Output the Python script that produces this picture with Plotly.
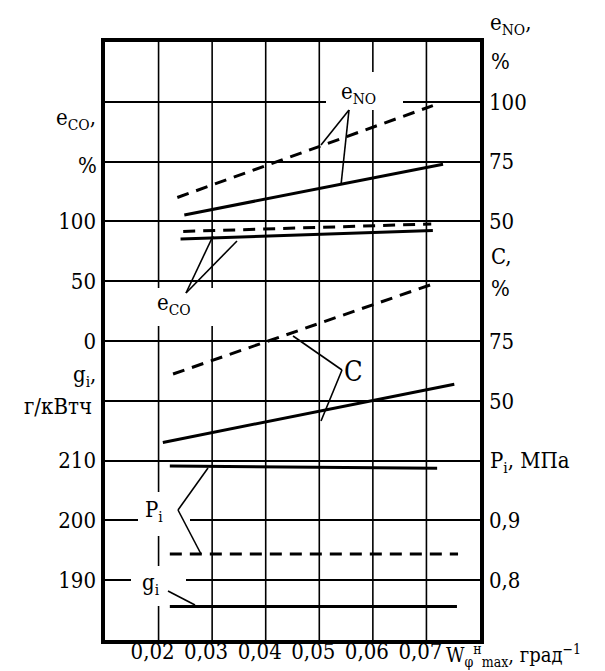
import plotly.graph_objects as go

# ---------------- data ----------------
x_ticks = [0.02, 0.03, 0.04, 0.05, 0.06, 0.07]
x_ticktext = ["0,02", "0,03", "0,04", "0,05", "0,06", "0,07"]

# e_NO, %  (right scale)
eno_dash_x = [0.0235, 0.0712]
eno_dash_y = [60.0, 98.4]
eno_solid_x = [0.0248, 0.0731]
eno_solid_y = [52.7, 73.9]

# e_CO, %  (left scale)
eco_dash_x = [0.0246, 0.0709]
eco_dash_y = [91.6, 97.8]
eco_solid_x = [0.0241, 0.0712]
eco_solid_y = [85.2, 92.4]

# C, %  (right scale)
c_dash_x = [0.0227, 0.0709]
c_dash_y = [61.2, 98.6]
c_solid_x = [0.0208, 0.0752]
c_solid_y = [32.6, 56.9]

# P_i, MPa (right scale)
pi_solid_x = [0.0221, 0.0720]
pi_solid_y = [0.991, 0.987]
pi_dash_x = [0.0221, 0.0759]
pi_dash_y = [0.844, 0.844]

# g_i, g/kWh (left scale)
gi_solid_x = [0.0221, 0.0757]
gi_solid_y = [185.6, 185.6]

eco_ticks = [0, 50, 100]
gi_ticks = [190, 200, 210]
eno_ticks = [50, 75, 100]
c_ticks = [50, 75]
pi_ticks = [0.8, 0.9]
pi_ticktext = ["0,8", "0,9"]

# ---------------- layout helpers ----------------
L, R, T, B = 97, 472, 34, 632
FONT = "'DejaVu Serif Condensed', 'DejaVu Serif', serif"
FS = 22


def px2x(px):
    return 0.01 + (px - L) / (R - L) * 0.07


def py2j(py):
    return (B - py) / (B - T) * 10


def ppx(px):
    return (px - L) / (R - L)


def ppy(py):
    return (B - py) / (B - T)


fig = go.Figure()

DASH = "12px,8px"
LW = 3


def add_line(x, y, axis, dash=None):
    fig.add_trace(go.Scatter(
        x=x, y=y, mode="lines", yaxis=axis, showlegend=False, hoverinfo="skip",
        line=dict(color="black", width=LW, dash=dash if dash else "solid")))


add_line(eno_dash_x, eno_dash_y, "y4", DASH)
add_line(eno_solid_x, eno_solid_y, "y4")
add_line(eco_dash_x, eco_dash_y, "y2", DASH)
add_line(eco_solid_x, eco_solid_y, "y2")
add_line(c_dash_x, c_dash_y, "y5", DASH)
add_line(c_solid_x, c_solid_y, "y5")
add_line(pi_solid_x, pi_solid_y, "y6")
add_line(pi_dash_x, pi_dash_y, "y6", DASH)
add_line(gi_solid_x, gi_solid_y, "y3")

tickfont = dict(family=FONT, size=FS, color="black")

fig.update_layout(
    width=605, height=671,
    margin=dict(l=L, r=605 - R, t=T, b=671 - B, autoexpand=False),
    paper_bgcolor="white", plot_bgcolor="white",
    font=dict(family=FONT, size=FS, color="black"),
    xaxis=dict(range=[0.01, 0.08], tickvals=x_ticks, ticktext=x_ticktext,
               showgrid=False, zeroline=False, showline=True, mirror=True,
               linecolor="black", linewidth=3.5, ticks="", tickfont=tickfont,
               ticklabelstandoff=-11, ticklabelshift=-6, automargin=False),
    yaxis=dict(range=[0, 10], tickvals=list(range(11)), showgrid=True,
               gridcolor="black", gridwidth=1.6, showticklabels=False,
               zeroline=False, showline=True, mirror=True, linecolor="black",
               linewidth=3.5, ticks="", automargin=False),
    yaxis2=dict(range=[-250, 250], tickvals=eco_ticks, overlaying="y", side="left",
                anchor="x", showgrid=False, zeroline=False, showline=False,
                ticks="", tickfont=tickfont, ticklabelstandoff=8, automargin=False),
    yaxis3=dict(range=[180, 280], tickvals=gi_ticks, overlaying="y", side="left",
                anchor="x", showgrid=False, zeroline=False, showline=False,
                ticks="", tickfont=tickfont, ticklabelstandoff=8, automargin=False),
    yaxis4=dict(range=[-125, 125], tickvals=eno_ticks, overlaying="y", side="right",
                anchor="x", showgrid=False, zeroline=False, showline=False,
                ticks="", tickfont=tickfont, ticklabelstandoff=8, automargin=False),
    yaxis5=dict(range=[-50, 200], tickvals=c_ticks, overlaying="y", side="right",
                anchor="x", showgrid=False, zeroline=False, showline=False,
                ticks="", tickfont=tickfont, ticklabelstandoff=8, automargin=False),
    yaxis6=dict(range=[0.7, 1.7], tickvals=pi_ticks, ticktext=pi_ticktext,
                overlaying="y", side="right", anchor="x", showgrid=False,
                zeroline=False, showline=False, ticks="", tickfont=tickfont,
                ticklabelstandoff=8, automargin=False),
)

# vertical grid lines (x grid) drawn on the base axes
for xv in x_ticks:
    fig.add_shape(type="line", xref="x", yref="y", x0=xv, x1=xv, y0=0, y1=10,
                  line=dict(color="black", width=1.6), layer="below")

# white gaps in the grid around the labels
gaps = [
    (318, 395, 64, 102),   # e_NO
    (140, 216, 280, 318),  # e_CO
    (130, 182, 484, 528),  # P_i
    (123, 178, 558, 598),  # g_i
]
for x0, x1, y0, y1 in gaps:
    fig.add_shape(type="rect", xref="x", yref="y", x0=px2x(x0), x1=px2x(x1),
                  y0=py2j(y1), y1=py2j(y0), fillcolor="white",
                  line=dict(width=0), layer="between")

# leader lines
leaders = [
    ((341, 102), (313, 137)), ((341, 102), (333, 177)),   # e_NO
    ((178, 285), (205, 228)), ((178, 285), (229, 233)),   # e_CO
    ((334, 362), (285, 328)), ((334, 362), (313, 413)),   # C
    ((170, 502), (200, 460)), ((170, 502), (193, 546)),   # P_i
    ((160, 583), (187, 597)),                             # g_i
]
for (ax, ay), (bx, by) in leaders:
    fig.add_shape(type="line", xref="x", yref="y", x0=px2x(ax), y0=py2j(ay),
                  x1=px2x(bx), y1=py2j(by), line=dict(color="black", width=1.6),
                  layer="above")


def note(text, px, py, xanchor="center", size=FS):
    fig.add_annotation(text=text, x=ppx(px), y=ppy(py), xref="paper", yref="paper",
                       xanchor=xanchor, yanchor="middle", showarrow=False,
                       font=dict(family=FONT, size=size, color="black"))


# labels inside the plot
note("e<sub>NO</sub>", 350, 85)
note("e<sub>CO</sub>", 166, 296)
note("C", 345, 363, size=27)
note("P<sub>i</sub>", 146, 503)
note("g<sub>i</sub>", 143, 576)

# axis titles, left
note("e<sub>CO</sub>,", 68, 111)
note("%", 79, 157)
note("g<sub>i</sub>,", 76, 368)
note("г/кВтч", 50, 399)

# axis titles, right
note("e<sub>NO</sub>,", 480, 17, xanchor="left")
note("%", 481, 54, xanchor="left")
note("C,", 481, 248, xanchor="left")
note("%", 481, 280, xanchor="left")
note("P<sub>i</sub>, МПа", 480, 454, xanchor="left")

# x-axis title
note("W<sub>φ</sub><sup>н</sup><sub>max</sub>, град<sup>−1</sup>", 436, 647,
     xanchor="left", size=20)

fig.write_html("out.html")
